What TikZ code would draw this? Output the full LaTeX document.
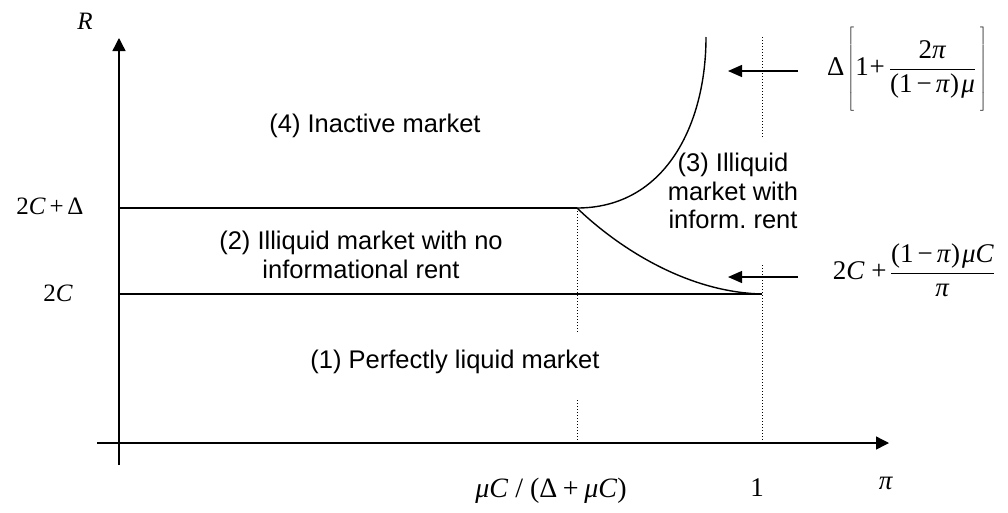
\documentclass[tikz,border=0pt]{standalone}
\usepackage{fontspec}
\setmainfont{Liberation Sans}
\newfontfamily\tms{Liberation Serif}
\usetikzlibrary{arrows.meta}
\newcommand\mi[1]{\textit{#1}}
\newcommand\hsk[1]{\kern#1em}
\frenchspacing
\tikzset{
  axis/.style={line width=1.4pt,-{Triangle[length=13pt,width=13pt]}},
  lvl/.style={line width=1.2pt},
  lvlb/.style={line width=1.8pt},
  curve/.style={line width=1.4pt},
  guide/.style={line width=0.9pt,dash pattern=on 1pt off 2pt},
  ptr/.style={line width=1.3pt,-{Triangle[length=14pt,width=12pt]}},
  lab/.style={font=\fontsize{25.5}{28.5}\selectfont,align=center,inner sep=0pt},
  mth/.style={font=\fontsize{25}{28}\selectfont\tms,inner sep=0pt},
}
\begin{document}
\begin{tikzpicture}[x=1pt,y=-1pt]
\useasboundingbox (0,0) rectangle (1008,512);
% coordinates
\coordinate (ytop) at (119,38);
\coordinate (ybot) at (119,465);
\coordinate (xl) at (97,443);
\coordinate (xr) at (889,443);
\coordinate (k) at (577,208);
\coordinate (kA) at (577,333);
\coordinate (kB) at (577,400);
\coordinate (k0) at (577,443);
\coordinate (hl) at (119,208);
\coordinate (ll) at (119,294);
\coordinate (one) at (762,294);
\coordinate (one0) at (762,443);
\coordinate (oneA) at (762,265);
\coordinate (t1) at (762,37);
\coordinate (t2) at (762,137);
\coordinate (ctop) at (706,37);
% axes
\draw[axis] (ybot) -- (ytop);
\draw[axis] (xl) -- (xr);
% levels
\draw[lvl] (hl) -- (k);
\draw[lvlb] (ll) -- (one);
% guides
\draw[guide] (k) -- (kA);
\draw[guide] (kB) -- (k0);
\draw[guide] (t1) -- (t2);
\draw[guide] (oneA) -- (one0);
% curves
\draw[curve] (k) .. controls (665,208) and (706,125) .. (ctop);
\draw[curve] (k) .. controls (610,240) and (680,292) .. (one);
% region labels
\node[lab] (r4) at (375,126) {(4) Inactive market};
\node[lab] (r2) at (361,255) {(2) Illiquid market with no\\informational rent};
\node[lab] (r1) at (455,362) {(1) Perfectly liquid market};
\node[lab] (r3) at (733,191) {(3) Illiquid\\market with\\inform. rent};
% axis labels
\node[mth,anchor=base] (R) at (85,29) {\mi{R}};
\node[mth,anchor=base] (l2cd) at (50,214) {2\mi{C}\hsk{0.15}+\hsk{0.15}Δ};
\node[mth,anchor=base] (l2c) at (58,301) {2\mi{C}};
\node[mth,font=\fontsize{28}{30}\selectfont\tms,anchor=base] (lk) at (551,497)
  {\mi{μC}\hsk{0.25}/\hsk{0.25}(Δ\hsk{0.2}+\hsk{0.2}\mi{μC})};
\node[mth,font=\fontsize{27}{30}\selectfont\tms,anchor=base] (l1) at (757,496) {1};
\node[mth,font=\fontsize{27}{30}\selectfont\tms,anchor=base] (lpi) at (886,489) {\mi{π}};
% right formulas
\node[mth,font=\fontsize{27}{30}\selectfont\tms] (f1) at (907,70)
  {Δ\hsk{0.1}$\left[\vrule height 37pt depth 37pt width 0pt\mbox{\tms\hsk{0.05}1\hsk{0.03}+}\,{\displaystyle\frac{\mbox{\tms 2\mi{π}}}{\mbox{\tms (1\hsk{0.15}−\hsk{0.15}\mi{π})\hsk{0.08}\mi{μ}}}}\,\right]$};
\node[mth,font=\fontsize{27}{30}\selectfont\tms] (f2) at (914,270)
  {2\mi{C}\hsk{0.25}+\hsk{0.12}${\displaystyle\frac{\mbox{\tms (1\hsk{0.15}−\hsk{0.15}\mi{π})\hsk{0.08}\mi{μC}}}{\mbox{\tms\mi{π}}}}$};
% pointers
\coordinate (p1s) at (798,71);
\coordinate (p1e) at (728,71);
\coordinate (p2s) at (798,277);
\coordinate (p2e) at (728,277);
\draw[ptr] (p1s) -- (p1e);
\draw[ptr] (p2s) -- (p2e);
\end{tikzpicture}
\end{document}
